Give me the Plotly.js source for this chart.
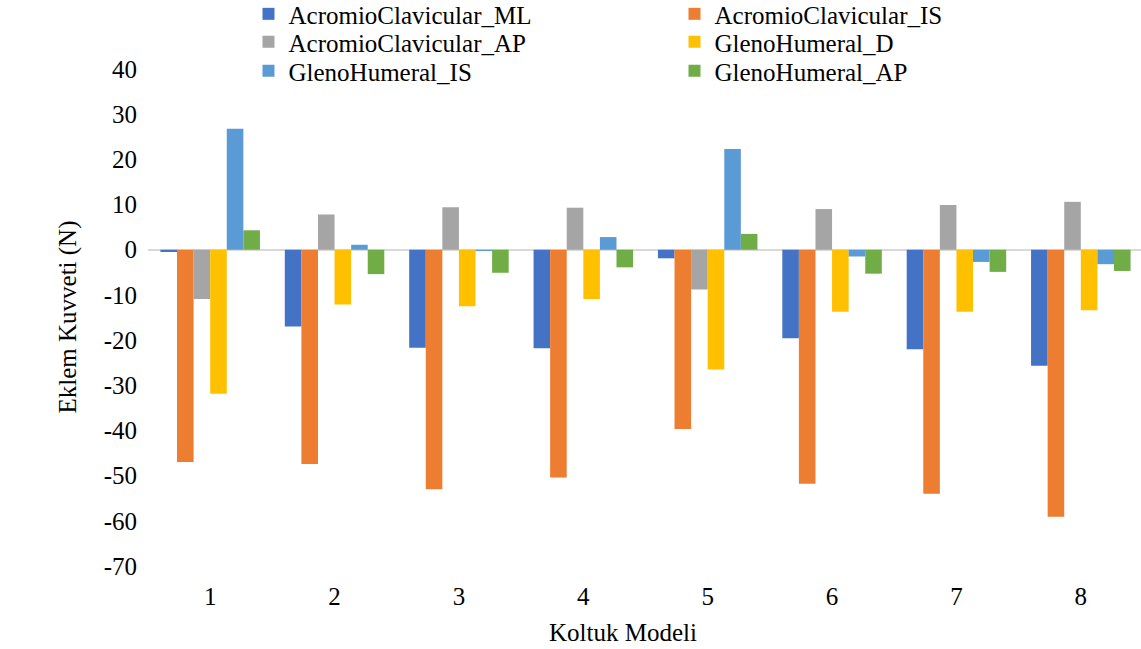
<!DOCTYPE html>
<html>
<head>
<meta charset="utf-8">
<script src="https://cdn.plot.ly/plotly-3.0.1.min.js"></script>
<style>
html,body{margin:0;padding:0;overflow:hidden;background:#fff;}
#chart{width:1144px;height:649px;}
</style>
</head>
<body>
<div id="chart"></div>
<script>
const categories = ["1","2","3","4","5","6","7","8"];
const acML  = [-0.5, -17.0, -21.7, -21.8, -1.9, -19.6, -22.0, -25.7];
const acIS  = [-47.0, -47.4, -53.0, -50.4, -39.7, -51.8, -54.0, -59.1];
const acAP  = [-10.9, 7.8, 9.4, 9.3, -8.8, 9.0, 9.9, 10.6];
const ghD   = [-31.9, -12.1, -12.5, -10.9, -26.5, -13.7, -13.7, -13.4];
const ghIS  = [26.8, 1.1, -0.3, 2.8, 22.3, -1.5, -2.7, -3.2];
const ghAP  = [4.3, -5.4, -5.1, -3.9, 3.5, -5.3, -4.9, -4.7];
const seriesNames = ["AcromioClavicular_ML","AcromioClavicular_IS","AcromioClavicular_AP","GlenoHumeral_D","GlenoHumeral_IS","GlenoHumeral_AP"];
const yTicks = [40,30,20,10,0,-10,-20,-30,-40,-50,-60,-70];

const seriesData = [acML, acIS, acAP, ghD, ghIS, ghAP];
const colors = ["#4472C4","#ED7D31","#A5A5A5","#FFC000","#5B9BD5","#70AD47"];
const legendIds = ["legend","legend","legend2","legend2","legend3","legend3"];

const traces = seriesData.map((vals,i)=>({
  type:"bar",
  x:categories,
  y:vals,
  name:seriesNames[i],
  marker:{color:colors[i], line:{width:0}},
  legend:legendIds[i],
  hoverinfo:"x+y+name"
}));

const font = {family:"Liberation Serif, Times New Roman, serif", size:25, color:"#000"};
const legendBase = {
  orientation:"h", xanchor:"left", yanchor:"middle", x:0.101, yref:"container",
  font:font, entrywidth:381, entrywidthmode:"pixels",
  bgcolor:"rgba(0,0,0,0)", borderwidth:0, traceorder:"normal"
};

const layout = {
  width:1144, height:649,
  margin:{l:148, r:1, t:69, b:83, autoexpand:false},
  paper_bgcolor:"#fff", plot_bgcolor:"#fff",
  font:font,
  barmode:"group", bargap:0.2, bargroupgap:0,
  showlegend:true,
  legend:Object.assign({}, legendBase, {y:0.9783}),
  legend2:Object.assign({}, legendBase, {y:0.9352}),
  legend3:Object.assign({}, legendBase, {y:0.8906}),
  xaxis:{
    type:"category", range:[-0.5,7.5],
    showgrid:false, showline:false, zeroline:false,
    ticks:"", tickfont:font, ticklabelstandoff:13
  },
  yaxis:{
    range:[-70,40], tickvals:yTicks, ticktext:yTicks.map(String),
    showgrid:false, showline:false,
    zeroline:true, zerolinecolor:"#d9d9d9", zerolinewidth:2,
    ticks:"", tickfont:font, ticklabelstandoff:10
  },
  annotations:[
    {text:"Eklem Kuvveti (N)", xref:"paper", yref:"paper", x:-0.0814, y:0.5,
     xanchor:"center", yanchor:"middle", textangle:-90, showarrow:false, font:font},
    {text:"Koltuk Modeli", xref:"paper", yref:"paper", x:0.477, y:-0.1328,
     xanchor:"center", yanchor:"middle", showarrow:false, font:font}
  ]
};

Plotly.newPlot("chart", traces, layout, {displayModeBar:false, staticPlot:true});
</script>
</body>
</html>
